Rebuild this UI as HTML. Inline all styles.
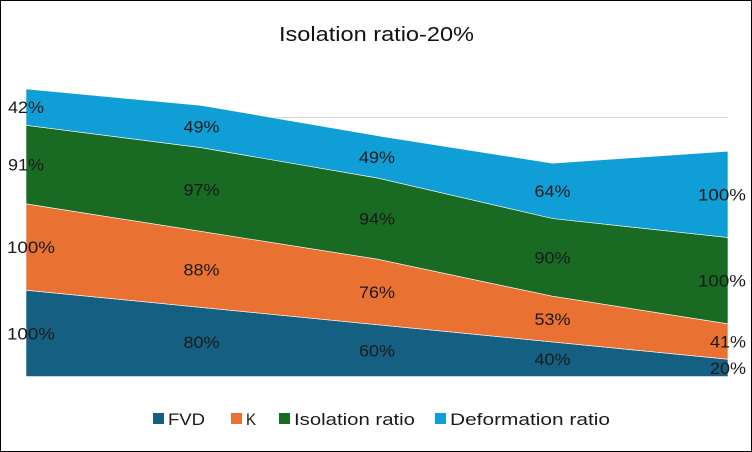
<!DOCTYPE html>
<html><head><meta charset="utf-8"><style>
body{margin:0;background:#fff;}
#c{position:relative;width:752px;height:452px;box-sizing:border-box;border:1px solid #000;background:#fff;font-family:"Liberation Sans",Arial,sans-serif;overflow:hidden;}
svg{position:absolute;left:0;top:0;}
</style></head><body>
<div id="c">
<svg id="s" width="752" height="452">
<text x="278" y="40" font-size="20" fill="#111" textLength="195" lengthAdjust="spacingAndGlyphs" font-family="Liberation Sans, Arial, sans-serif">Isolation ratio-20%</text>
</svg>
</div>
<script>
const categories=["1","2","3","4","5"];
const seriesNames=["FVD","K","Isolation ratio","Deformation ratio"];
const fvd=[100,80,60,40,20];
const kVals=[100,88,76,53,41];
const isoVals=[91,97,94,90,100];
const defVals=[42,49,49,64,100];
const colors=["#156082","#E97132","#196B24","#0F9ED5"];
const series=[fvd,kVals,isoVals,defVals];
const NS="http://www.w3.org/2000/svg";
const svg=document.getElementById('s');
const x0=25,x1=727,yBot=375.5,yTop=116.5,yMax=300;
const xs=i=>x0+(x1-x0)*i/(categories.length-1);
const ys=v=>yBot-(yBot-yTop)*v/yMax;
const grid=document.createElementNS(NS,'line');
grid.setAttribute('x1',x0);grid.setAttribute('x2',x1);grid.setAttribute('y1',ys(300));grid.setAttribute('y2',ys(300));
grid.setAttribute('stroke','#d9d9d9');grid.setAttribute('stroke-width','1');


svg.appendChild(grid);
const base=categories.map(()=>0);
const labels=[];
series.forEach((arr,si)=>{
  const lo=base.slice();
  const hi=arr.map((v,i)=>lo[i]+v);
  let d='M'+categories.map((c,i)=>xs(i)+','+ys(hi[i])).join(' L');
  for(let i=categories.length-1;i>=0;i--) d+=' L'+xs(i)+','+ys(lo[i]);
  d+=' Z';
  const p=document.createElementNS(NS,'path');
  p.setAttribute('d',d);p.setAttribute('fill',colors[si]);
  p.setAttribute('stroke','#ffffff');p.setAttribute('stroke-width','0.6');
  
  
  svg.appendChild(p);
  arr.forEach((v,i)=>{labels.push({x:xs(i),y:(ys(lo[i])+ys(hi[i]))/2,t:v+'%',s:si,i:i});});
  for(let i=0;i<base.length;i++) base[i]=hi[i];
});
labels.forEach(l=>{
  const t=document.createElementNS(NS,'text');
  const w=l.t.length*12;
  let x=l.x;
  if(l.i===0) x=Math.max(x,w/2+6);
  if(l.i===categories.length-1) x=Math.min(x,745-w/2);
  t.setAttribute('x',x);t.setAttribute('y',l.y+6);
  t.setAttribute('text-anchor','middle');t.setAttribute('font-size','17');t.setAttribute('fill','#1a1a1a');
  t.setAttribute('textLength',w);t.setAttribute('lengthAdjust','spacingAndGlyphs');
  t.textContent=l.t;
  
  
  svg.appendChild(t);
});
const legX=[152,230,278,434];
const legW=[37,10,121,160];
seriesNames.forEach((n,i)=>{
  const g=document.createElementNS(NS,'g');
  
  
  const r=document.createElementNS(NS,'rect');
  r.setAttribute('x',legX[i]);r.setAttribute('y',412);r.setAttribute('width',11);r.setAttribute('height',11);r.setAttribute('fill',colors[i]);
  
  
  const t=document.createElementNS(NS,'text');
  t.setAttribute('x',legX[i]+15);t.setAttribute('y',424);t.setAttribute('font-size','17');t.setAttribute('fill','#1a1a1a');
  t.setAttribute('textLength',legW[i]);t.setAttribute('lengthAdjust','spacingAndGlyphs');
  t.textContent=n;
  
  
  g.appendChild(r);g.appendChild(t);svg.appendChild(g);
});
</script>
</body></html>
